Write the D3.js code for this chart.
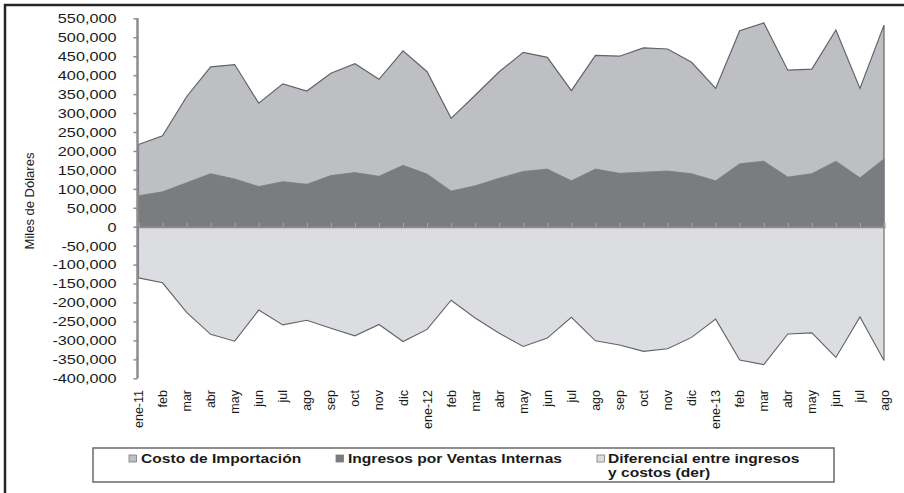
<!DOCTYPE html>
<html>
<head>
<meta charset="utf-8">
<script src="https://cdn.jsdelivr.net/npm/d3@7"></script>
<style>
  html, body { margin: 0; padding: 0; background: #fff; }
  svg { display: block; font-family: "Liberation Sans", Arial, sans-serif; }
</style>
</head>
<body>
<svg id="chart" width="904" height="493"></svg>
<script>
// ---- Data (miles de dólares) ----
const categories = ["ene-11","feb","mar","abr","may","jun","jul","ago","sep","oct","nov","dic",
  "ene-12","feb","mar","abr","may","jun","jul","ago","sep","oct","nov","dic",
  "ene-13","feb","mar","abr","may","jun","jul","ago"];
const costoImportacion = [217000,240000,343000,422000,428000,326000,377000,358000,405000,430000,389000,464000,
  409000,286000,347000,409000,460000,447000,359000,452000,450000,472000,469000,434000,
  365000,517000,538000,413000,416000,519000,365000,532000];
const ingresosVentas = [82000,92000,116000,140000,126000,106000,119000,112000,135000,143000,133000,162000,
  139000,94000,108000,128000,146000,152000,121000,152000,141000,144000,147000,140000,
  121000,166000,173000,131000,140000,173000,129000,179000];
const diferencial = [-135000,-148000,-226000,-284000,-302000,-220000,-259000,-247000,-268000,-288000,-258000,-303000,
  -271000,-194000,-241000,-281000,-316000,-294000,-239000,-301000,-312000,-329000,-322000,-292000,
  -244000,-352000,-364000,-283000,-280000,-345000,-238000,-353000];
const yTicks = [550000,500000,450000,400000,350000,300000,250000,200000,150000,100000,50000,0,
  -50000,-100000,-150000,-200000,-250000,-300000,-350000,-400000];
const seriesNames = ["Costo de Importación","Ingresos por Ventas Internas","Diferencial entre ingresos","y costos (der)"];

const svg = d3.select("#chart");
const SX = 1.3; // horizontal text stretch of the reference

// outer frame (only left/top visible in reference)
svg.append("rect").attr("x", 5).attr("y", 5).attr("width", 920).attr("height", 520)
  .attr("fill", "none").attr("stroke", "#262626").attr("stroke-width", 2.5);

const idx = d3.range(categories.length);
const x = d3.scalePoint().domain(idx).range([138.5, 884]);
const y = d3.scaleLinear().domain([-400000, 550000]).range([378.3, 18.3]);

const cFill = "#bebfc3", iFill = "#7b7c80", dFill = "#dcdde0", edge = "#626367";

// Costo area
svg.append("path")
  .datum(idx)
  .attr("d", d3.area().x(i => x(i)).y0(y(0)).y1(i => y(costoImportacion[i])))
  .attr("fill", cFill).attr("stroke", edge).attr("stroke-width", 1.2);

// Ingresos area
svg.append("path")
  .datum(idx)
  .attr("d", d3.area().x(i => x(i)).y0(y(0)).y1(i => y(ingresosVentas[i])))
  .attr("fill", iFill).attr("stroke", iFill).attr("stroke-width", 0.8);

// Diferencial area
svg.append("path")
  .datum(idx)
  .attr("d", d3.area().x(i => x(i)).y0(y(0)).y1(i => y(diferencial[i])))
  .attr("fill", dFill).attr("stroke", edge).attr("stroke-width", 1.1);

// X axis (at zero)
const xAxis = svg.append("g").attr("transform", `translate(0,${y(0)})`)
  .call(d3.axisTop(x).tickSize(4).tickFormat(() => ""));
xAxis.select(".domain").attr("stroke", "#8c8c8f").attr("stroke-width", 2);
xAxis.selectAll(".tick line").attr("stroke", "#a9aaad").attr("stroke-width", 1);

// X labels (rotated)
svg.append("g").selectAll("text").data(idx).join("text")
  .attr("transform", i => `translate(${x(i)},390) rotate(-90)`)
  .attr("text-anchor", "end").attr("dy", "0.36em")
  .attr("font-size", "12.5px").attr("fill", "#1a1a1a")
  .text(i => categories[i]);

// Y axis
const fmt = d3.format(",");
const yAxis = svg.append("g").attr("transform", "translate(137.5,0)")
  .call(d3.axisLeft(y).tickValues(yTicks).tickSize(4)
    .tickFormat(d => fmt(d).replace("\u2212", "-")));
yAxis.select(".domain").attr("stroke", "#8c8c8f").attr("stroke-width", 2.5)
  .attr("d", `M0,${y(550000)}V${y(-400000)}`);
yAxis.selectAll(".tick line").attr("stroke", "#8c8c8f").attr("stroke-width", 1.5);
yAxis.selectAll(".tick text")
  .attr("font-size", "12.5px").attr("fill", "#1a1a1a")
  .attr("x", -21 / SX).attr("dy", "0.35em")
  .attr("transform", `scale(${SX},1)`);

// Y title
svg.append("text").attr("transform", "translate(34,201) rotate(-90)")
  .attr("text-anchor", "middle").attr("font-size", "13px").attr("fill", "#1a1a1a")
  .text("Miles de Dólares");

// Legend
const lg = svg.append("g");
lg.append("rect").attr("x", 93).attr("y", 448).attr("width", 741).attr("height", 34)
  .attr("fill", "#fff").attr("stroke", "#6a6a6a").attr("stroke-width", 1.5);
const legendItems = [
  {mx: 129, tx: 141, fill: cFill, lines: [seriesNames[0]]},
  {mx: 336, tx: 348, fill: iFill, lines: [seriesNames[1]]},
  {mx: 597, tx: 608, fill: dFill, lines: [seriesNames[2], seriesNames[3]]}
];
legendItems.forEach(it => {
  lg.append("rect").attr("x", it.mx).attr("y", 455).attr("width", 7.5).attr("height", 7)
    .attr("fill", it.fill).attr("stroke", "#7a7a7a").attr("stroke-width", 0.8);
  it.lines.forEach((t, k) => {
    lg.append("text").attr("transform", `translate(${it.tx},${463 + k * 14}) scale(${SX},1)`)
      .attr("font-size", "12px").attr("font-weight", "bold").attr("fill", "#1a1a1a")
      .text(t);
  });
});
</script>
</body>
</html>
